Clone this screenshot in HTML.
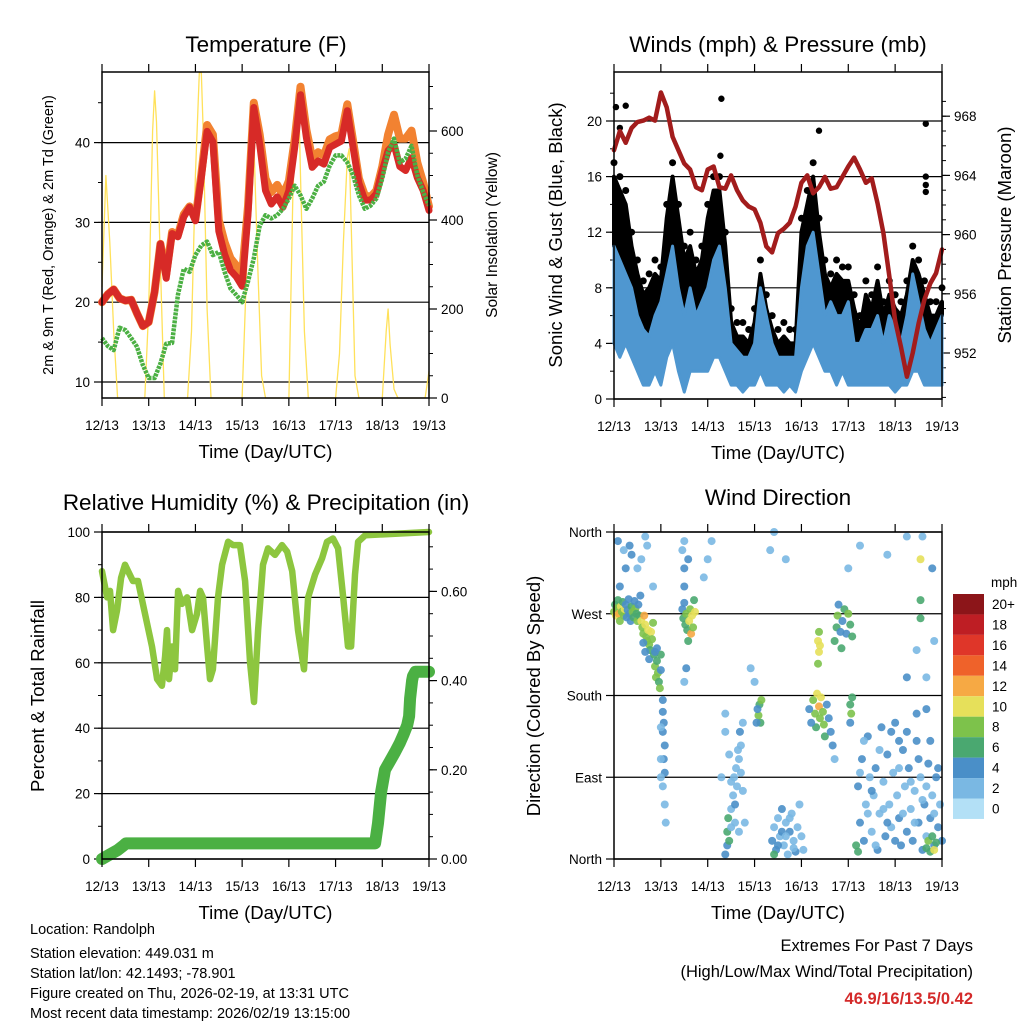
<!DOCTYPE html>
<html><head><meta charset="utf-8"><style>
body{margin:0;background:#fff}
svg{display:block;font-family:"Liberation Sans",sans-serif}
</style></head><body>
<svg id="c" width="1024" height="1024" viewBox="0 0 1024 1024"></svg>
<script>
// ---------- data ----------
const hours3 = [0,3,6,9,12,15,18,21,24,27,30,33,36,39,42,45,48,51,54,57,60,63,66,69,72,75,78,81,84,87,90,93,96,99,102,105,108,111,114,117,120,123,126,129,132,135,138,141,144,147,150,153,156,159,162,165,168];
const tempRed = [20,21,21.6,20.5,20.2,20.3,18.6,17,17.5,21.3,27.3,23,28.6,28.2,30.7,31.9,30.2,35.6,41.4,40.1,28.9,26,24,23.2,22,31,44.4,39.8,34,32.3,33.2,31.9,34,39.4,46,40.6,36.9,37.7,37.3,39.4,39.8,40.2,44,39.4,34.9,32.8,32.8,33.6,36.5,39,39.8,37,36.5,38.1,35.6,34,31.5];
const tempOrange = [20,21,21.6,20.5,20.2,20.3,18.6,17,17.5,21.3,27.3,23.5,28.8,28.4,31,32,30.4,36,42.2,41,30.3,27.5,25.5,24.6,23.5,32,45,41,35.5,33.8,34.7,33.4,35.2,40.4,47,41.6,38,38.8,38.4,40.4,40.8,41,44.8,40.2,35.5,33.4,33.2,34,37,41,43.5,40.5,40.5,41.5,37.5,35,32];
const dewGreen = [15.5,14.5,14,16.8,16.5,15.5,14.4,12.1,10.5,10.5,12.3,14.8,14.9,20.9,24.2,23.8,25.9,27.1,27.6,25.9,26.3,23.8,21.7,20.9,20,22.6,25.5,29.6,30.9,30.5,30.9,31.7,33,34.6,33.4,31.7,33,34.6,35.1,37.1,38.4,38.4,37.5,35.9,33.4,31.7,32.1,33,35.5,38.8,40.5,37.5,38,39.6,35.9,33.8,32.1];
const solarHours = [0,2,4,6,8,22,24,26,27,28,30,32,44,46,48,50,51,52,54,56,72,74,76,78,80,82,84,96,98,100,101,102,104,106,120,122,124,126,127,128,130,132,144,146,147,148,150,152,166,168];
const solarValues = [250,500,350,150,0,0,200,600,690,620,300,0,0,150,500,730,740,600,200,0,0,250,550,580,300,50,0,0,450,680,690,500,150,0,0,100,350,540,560,400,50,0,0,150,200,120,20,0,0,60];
const windHi = [11,10,9,8,6,5,4.5,6,7,9,11,8,6,8,6,7,8,10,11,8,4,3.5,3,3,4,8,6,4,3,3,3,3,8,11,12,9,6,7,6,6,7,4,4,5,5,6,4,6,5,4,6,9,7,5,4,5,6];
const windLo = [4,3,4,3,2,1,1,2,1,3,4,2,0.5,2,2,2,2,3,3,2,1,1,0.5,1,1,2,1,1,1,0.5,1,0.5,2,3,4,3,2,2,1,2,1,1,1,1,1,1,1,1,0.5,1,1,2,2,1,1,1,1];
const gustHi = [16,15,14,11,9,7.5,8,9,8.5,13,16,13,10,11,9,10,13,15,15,11,5.5,4.5,4.5,4,5.5,9,6.5,5,4,4.5,4,4,12,14,16,12,9,8,9,8.5,8.5,6.5,5,7.5,6.5,8.5,6,7.5,6.5,6,7.5,10,9,7.5,6,6,7];
const gustOutHours = [1,6,3,55,54.5,105,159.7,159.7,159.7,159.7];
const gustOutValues = [21,21.1,19.5,21.6,17.5,19.3,19.8,16,15.4,14.9];
const pressure = [965.7,967,966.2,967.2,967.6,967.7,967.9,967.7,969.6,968.6,966.6,965.7,964.8,964.4,963.2,963,964.4,964.6,963.2,963.1,964,963,962.3,961.9,961.7,960.8,959.2,958.8,960.1,960.4,960.8,961.9,963.5,964,962.8,963.2,963.9,963.1,963.2,963.9,964.6,965.2,964.4,963.5,963.8,962.1,960.1,957.2,954.2,952.4,950.4,952,954,955.6,956.7,957.4,959];
const rhHours = [0,2.6,4.1,5.7,7.7,9.8,11.8,13.4,15.9,18.5,22.1,25.7,28.3,30.8,32.4,33.4,34.4,36,37.5,39.1,41.1,43.7,46.3,48.8,50.4,51.9,54,55.5,57,59.6,61.7,64.8,67.3,70.9,73.5,76.1,78.1,80.2,82.7,85.3,88.9,92.5,95.1,97.7,100.7,103.8,105.9,109.5,113.1,115.6,118.7,121.3,123.9,126.4,128,130,131.6,135.2,168];
const rhValues = [88,80,82,70,76,86,90,88,85,85,75,65,55,53,62,70,55,65,58,82,78,80,70,75,82,80,65,55,58,80,90,97,96,96,85,60,48,70,90,95,93,96,94,88,70,58,80,87,92,97,98,95,80,65,65,87,97,99,100];
const precipHours = [0,4,8,11,12.3,140.3,141.8,143.4,145.4,148,150.6,153,155,156.8,157.8,158.3,158.8,159.3,159.8,161,168];
const precipValues = [0,0.01,0.02,0.03,0.035,0.035,0.08,0.15,0.2,0.22,0.24,0.26,0.28,0.30,0.32,0.36,0.38,0.40,0.41,0.42,0.42];
const dirHour = [0,0.5,1,1.5,2,2.5,3,3.5,4,4.5,5,5.5,6,6.5,7,7.5,8,8.5,9,9.5,10,10.5,11,11.5,12,12.5,13,13.5,3,6,8,9,12,14,16,17,
14,14.5,15,15.5,16,16.5,17,17.5,18,18.5,19,19.5,15,16,18,20,
20.5,21,21.5,22,22.5,23,23.5,24,21,22,24,
25,25,25.5,25,26,25.5,26,25,26,26.5,24,24,24,
35,35.5,36,36.5,37,37.5,38,38.5,39,39.5,40,40.5,41,41.5,36,36,35,38,37,36,
57,58,58,58.5,59,60,60,61,61.5,62,62.5,63,63.5,64,64.5,65,65,66,66,67,62,60,64,57,57,59,55,
74,74.5,75,73.5,75.5,73,
81,82,83,84,85,86,87,88,89,90,91,92,93,94,95,82,84,86,88,90,92,96,97,
102,103,103.5,104,105,105.5,106,107,107.5,108,109,110,111,112,100,101,113,
104.5,105,104.5,105,105.5,
113,114,114.5,115,116,116.5,117,118,119,120,121,122,
121,121.5,122,121,
125,126,127,128,129,130,131,132,133,134,135,136,137,138,139,140,141,142,143,144,145,146,147,148,149,150,151,152,153,154,155,156,157,158,159,160,161,162,163,164,165,166,167,168,126,128,130,132,134,136,140,142,144,146,148,150,152,154,156,158,160,162,164,166,138,146,155,160,
160,161,162,163,164,165,124,125,
2,5,46,48,50,80,82,88,120,126,140,150,157,157,157,158,163,20,36,70,72,150,155,160,164];
const dirDeg = [272,280,268,276,285,270,262,278,272,283,268,275,280,266,274,286,270,262,278,272,266,284,276,270,262,280,268,290,300,320,345,335,320,330,355,345,
262,255,248,268,258,245,240,252,236,230,250,242,238,228,220,260,
225,212,200,218,205,195,188,225,228,232,208,
175,162,150,140,125,110,95,80,60,40,145,90,110,
275,265,282,258,270,252,240,262,275,248,268,255,285,272,300,320,340,330,210,195,
5,15,30,45,20,55,35,70,90,60,100,80,120,110,140,95,125,150,75,40,40,85,30,160,140,115,90,
158,170,150,165,175,150,
20,35,10,45,25,55,15,40,5,30,50,20,8,35,60,5,15,30,25,45,12,25,10,
175,160,145,182,168,155,178,162,148,135,170,155,140,125,165,150,110,
240,228,215,250,235,
240,255,268,280,250,232,262,275,248,270,258,245,
170,160,178,150,
80,40,110,20,60,135,90,30,70,100,10,50,145,85,25,115,60,35,95,150,70,45,15,120,80,30,100,55,20,75,130,40,90,10,60,25,105,45,70,15,90,35,60,20,95,130,50,75,15,120,40,140,20,100,50,140,85,40,110,65,80,130,50,100,55,130,160,165,
12,20,8,25,10,18,15,8,
350,340,310,330,350,340,360,330,320,345,335,355,330,285,265,355,320,300,350,210,195,200,230,200,240];
const dirSpd = [8,6,10,8,6,12,8,10,8,6,8,10,4,4,4,4,4,4,6,8,6,4,8,6,8,4,6,4,4,4,4,4,2,2,2,2,
10,8,8,12,10,8,8,10,8,6,10,8,4,4,4,8,
6,8,8,6,8,6,8,6,4,4,4,
4,4,4,4,4,4,4,2,2,2,2,2,2,
4,6,4,6,8,6,6,10,8,12,10,8,6,10,4,4,2,4,4,2,
4,4,6,6,6,2,2,2,2,4,2,2,2,2,4,2,2,2,2,2,2,2,2,2,2,2,2,
8,6,6,4,8,4,
4,2,4,2,2,4,2,2,2,4,2,2,4,2,2,6,4,4,2,2,2,2,2,
8,8,6,10,12,8,10,8,8,6,4,4,4,4,4,4,2,
10,10,8,8,10,
6,6,8,4,4,6,4,6,4,8,6,6,
6,8,6,4,
4,4,4,4,2,4,2,2,2,4,4,2,4,2,4,4,2,2,2,4,2,4,4,4,2,4,4,2,4,2,4,4,2,4,4,2,4,4,2,4,4,4,2,4,2,2,2,4,2,2,4,4,4,2,2,4,2,2,4,2,2,4,2,4,2,4,4,4,
6,8,6,6,10,6,6,6,
4,2,2,2,2,2,2,2,2,2,2,2,10,6,6,2,4,2,2,2,2,4,2,2,2];
const speedLabels = ["20+","18","16","14","12","10","8","6","4","2","0"];
const speedColors = ["#b3e0f6","#7ab8e3","#4a8fc8","#4aa870","#7dc24b","#e6e05a","#f6a944","#ef622a","#df3629","#be1e24","#8c1519"];
const dayLabels = ["12/13","13/13","14/13","15/13","16/13","17/13","18/13","19/13"];

// ---------- helpers ----------
const svg = document.getElementById('c');
const NS = 'http://www.w3.org/2000/svg';
function mk(tag, attrs, parent){const e=document.createElementNS(NS,tag);for(const k in attrs)e.setAttribute(k,attrs[k]);(parent||svg).appendChild(e);return e;}
function txt(s,x,y,size,anchor,extra){const t=mk('text',Object.assign({x:x,y:y,'font-size':size,'text-anchor':anchor||'middle',fill:'#000'},extra||{}));t.textContent=s;return t;}
function xs(P,h){return P.x0+h*(P.x1-P.x0)/168;}
function poly(pts,attrs){return mk('polyline',Object.assign({points:pts.map(p=>p[0].toFixed(1)+','+p[1].toFixed(1)).join(' '),fill:'none','stroke-linejoin':'round','stroke-linecap':'round'},attrs));}

const P1={x0:102,x1:429,y0:72,y1:398}, P2={x0:614,x1:942,y0:72,y1:399}, P3={x0:102,x1:429,y0:532,y1:859}, P4={x0:614,x1:942,y0:532,y1:859};
const y1T=t=>382-(t-10)*7.98, y1S=s=>398-s*0.445;
const y2W=m=>399-m*13.9, y2P=p=>353-(p-952)*14.8;
const y3R=r=>859-r*3.27, y3P=v=>859-v*446;
const y4D=d=>859-d*327/360;

function frame(P,name){
  const g=mk('g',{});
  mk('rect',{x:P.x0,y:P.y0,width:P.x1-P.x0,height:P.y1-P.y0,fill:'none',stroke:'#000','stroke-width':1.5},g);
  for(let d=0;d<8;d++){const x=P.x0+d*(P.x1-P.x0)/7;
    mk('line',{x1:x,x2:x,y1:P.y1,y2:P.y1+8,stroke:'#000','stroke-width':1.2},g);
    mk('line',{x1:x,x2:x,y1:P.y0,y2:P.y0-8,stroke:'#000','stroke-width':1.2},g);
    const t=txt(dayLabels[d],x,P.y1+32,13.5);}
  const xt=txt('Time (Day/UTC)',(P.x0+P.x1)/2,P.y1+60,18.5);
}
function yAxis(P,side,vals,fy,labels,minor,grid){
  const x=side==='l'?P.x0:P.x1, dir=side==='l'?-1:1;
  const g=mk('g',{});
  vals.forEach((v,i)=>{const y=fy(v);
    if(grid)mk('line',{x1:P.x0,x2:P.x1,y1:y,y2:y,stroke:'#000','stroke-width':1.2},g);
    mk('line',{x1:x,x2:x+dir*8,y1:y,y2:y,stroke:'#000','stroke-width':1.2},g);
    const t=txt(labels[i],x+dir*12,y+5,13.5,side==='l'?'end':'start');});
  minor.forEach(v=>{const y=fy(v);if(y<P.y0||y>P.y1)return;mk('line',{x1:x,x2:x+dir*4,y1:y,y2:y,stroke:'#000','stroke-width':1},g);});
}
function range(a,b,s){const r=[];for(let v=a;v<=b+1e-9;v+=s)r.push(+v.toFixed(3));return r;}

// ---------- titles ----------
[['Temperature (F)',266,52,'title-temperature'],['Winds (mph) & Pressure (mb)',778,52,'title-winds'],['Relative Humidity (%) & Precipitation (in)',266,510,'title-humidity'],['Wind Direction',778,505,'title-wind-direction']].forEach(a=>{const t=txt(a[0],a[1],a[2],22.5);});

// ---------- Panel 1 ----------
yAxis(P1,'l',[10,20,30,40],y1T,['10','20','30','40'],range(10,45,5),true);
yAxis(P1,'r',[0,200,400,600],y1S,['0','200','400','600'],range(0,700,50),false);
poly(solarHours.map((h,i)=>[xs(P1,h),Math.max(P1.y0,y1S(solarValues[i]))]),{stroke:'#ffe15a','stroke-width':1.3});
poly(hours3.map((h,i)=>[xs(P1,h),y1T(tempOrange[i])]),{stroke:'#f28231','stroke-width':8});
poly(hours3.map((h,i)=>[xs(P1,h),y1T(tempRed[i])]),{stroke:'#d72a27','stroke-width':7});
poly(hours3.map((h,i)=>[xs(P1,h),y1T(dewGreen[i])]),{stroke:'#4bb043','stroke-width':4.5,'stroke-dasharray':'3 1','stroke-linecap':'butt'});
frame(P1,'temperature');
let t;
t=txt('2m & 9m T (Red, Orange) & 2m Td (Green)',0,0,14.5,'middle',{transform:'translate(53,235) rotate(-90)'});
t=txt('Solar Insolation (Yellow)',0,0,15.5,'middle',{transform:'translate(497,235) rotate(-90)'});

// ---------- Panel 2 ----------
yAxis(P2,'l',[0,4,8,12,16,20],y2W,['0','4','8','12','16','20'],range(0,22,2),true);
yAxis(P2,'r',[952,956,960,964,968],y2P,['952','956','960','964','968'],range(949,969,1),false);
const gb=hours3.map((h,i)=>[xs(P2,h),y2W(gustHi[i])]).concat(hours3.map((h,i)=>[xs(P2,h),y2W(windHi[i])]).reverse());
mk('polygon',{points:gb.map(p=>p.join(',')).join(' '),fill:'#000',stroke:'#000','stroke-width':4,'stroke-linejoin':'round'});
hours3.forEach((h,i)=>{const c=mk('circle',{cx:xs(P2,h),cy:y2W(gustHi[i]+1),r:3.5,fill:'#000'});});
gustOutHours.forEach((h,i)=>{const c=mk('circle',{cx:xs(P2,h),cy:y2W(gustOutValues[i]),r:3.2,fill:'#000'});});
const wb=hours3.map((h,i)=>[xs(P2,h),y2W(windHi[i])]).concat(hours3.map((h,i)=>[xs(P2,h),y2W(windLo[i])]).reverse());
mk('polygon',{points:wb.map(p=>p.join(',')).join(' '),fill:'#4f97d0',stroke:'#4f97d0','stroke-width':3,'stroke-linejoin':'round'});
poly(hours3.map((h,i)=>[xs(P2,h),y2P(pressure[i])]),{stroke:'#a21c1c','stroke-width':4.5});
frame(P2,'winds');
t=txt('Sonic Wind & Gust (Blue, Black)',0,0,18.5,'middle',{transform:'translate(562,235) rotate(-90)'});
t=txt('Station Pressure (Maroon)',0,0,18.5,'middle',{transform:'translate(1011,235) rotate(-90)'});

// ---------- Panel 3 ----------
yAxis(P3,'l',[0,20,40,60,80,100],y3R,['0','20','40','60','80','100'],range(0,100,10),true);
yAxis(P3,'r',[0,0.2,0.4,0.6],y3P,['0.00','0.20','0.40','0.60'],range(0,0.7,0.05),false);
poly(rhHours.map((h,i)=>[xs(P3,h),y3R(rhValues[i])]),{stroke:'#8dc63f','stroke-width':6.5});
poly(precipHours.map((h,i)=>[xs(P3,h),y3P(precipValues[i])]),{stroke:'#4bb043','stroke-width':12});
frame(P3,'humidity');
t=txt('Percent & Total Rainfall',0,0,18.5,'middle',{transform:'translate(44,696) rotate(-90)'});

// ---------- Panel 4 ----------
yAxis(P4,'l',[0,90,180,270,360],y4D,['North','East','South','West','North'],[],true);
dirHour.forEach((h,i)=>{const b=Math.min(10,Math.floor(dirSpd[i]/2));
  const c=mk('circle',{cx:xs(P4,h),cy:y4D(dirDeg[i]),r:4,fill:speedColors[b],'fill-opacity':0.9});
  });
frame(P4,'wind-direction');
t=txt('Direction (Colored By Speed)',0,0,18.5,'middle',{transform:'translate(540,696) rotate(-90)'});
// colorbar
const cb=mk('g',{});
speedLabels.forEach((l,i)=>{const y=594+i*20.45;
  const r=mk('rect',{x:953,y:y,width:31,height:20.45,fill:speedColors[10-i]},cb);
  const tt=txt(l,992,y+15,13.5,'start');});
t=txt('mph',991,587,13.5,'start');

// ---------- footer ----------
[['Location: Randolph',934],['Station elevation: 449.031 m',958],['Station lat/lon: 42.1493; -78.901',978],['Figure created on Thu, 2026-02-19, at 13:31 UTC',998],['Most recent data timestamp: 2026/02/19 13:15:00',1018]].forEach(a=>{const f=txt(a[0],30,a[1],14.5,'start');});
t=txt('Extremes For Past 7 Days',973,951,16.5,'end');
t=txt('(High/Low/Max Wind/Total Precipitation)',973,977,16.5,'end');
t=txt('46.9/16/13.5/0.42',973,1004,16.5,'end',{fill:'#d42a2a','font-weight':'bold'});
</script>
</body></html>
